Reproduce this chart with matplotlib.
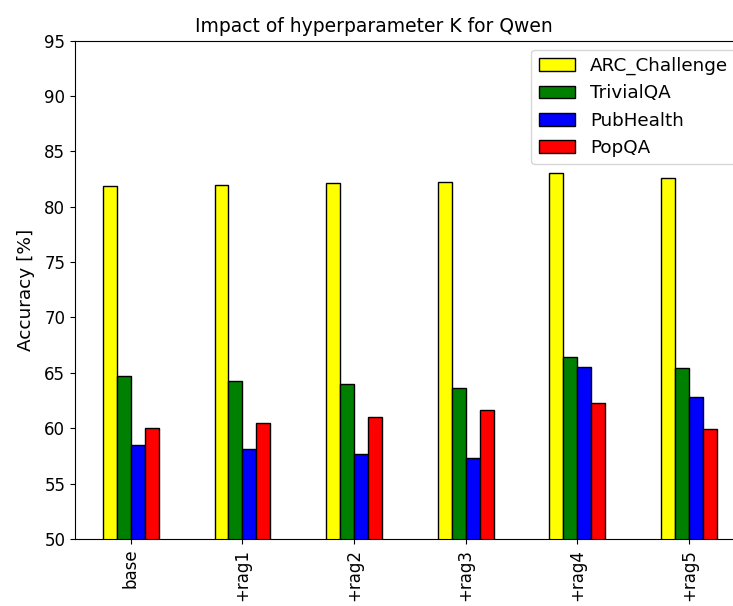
import matplotlib
matplotlib.use('Agg')
import matplotlib.pyplot as plt
import pandas as pd

plt.rcParams['font.size'] = 12

# settings
settings = ['base', '+rag1', '+rag2', '+rag3', '+rag4', '+rag5']
arc_challenge = [81.9, 82.0, 82.1, 82.25, 83.0, 82.6]
trivialqa = [64.7, 64.3, 64.0, 63.6, 66.45, 65.4]
pubhealth = [58.5, 58.1, 57.7, 57.3, 65.5, 62.8]
popqa = [60.0, 60.5, 61.0, 61.6, 62.3, 59.9]

df = pd.DataFrame({'ARC_Challenge': arc_challenge,
                   'TrivialQA': trivialqa,
                   'PubHealth': pubhealth,
                   'PopQA': popqa}, index=settings)

fig = plt.figure(figsize=(7.33, 6.06), dpi=100)
ax = fig.add_axes([75/733, 1 - 539/606, 669.6/733, 498.5/606])
df.plot.bar(ax=ax, color=['yellow', 'green', 'blue', 'red'],
            edgecolor='black', linewidth=1)
ax.set_ylim(50, 95)
ax.set_ylabel('Accuracy [%]', fontsize=13.3, labelpad=7)
ax.set_title('Impact of hyperparameter K for Qwen', fontsize=13.5, x=0.447)
ax.legend(loc='upper right', fontsize=13.2)

fig.savefig('out.png', dpi=100)
